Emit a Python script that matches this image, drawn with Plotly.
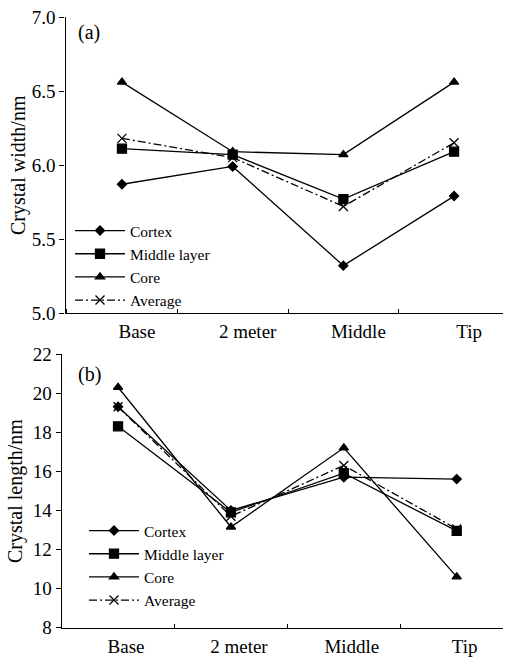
import plotly.graph_objects as go

categories = ["Base", "2 meter", "Middle", "Tip"]
series_names = ["Cortex", "Middle layer", "Core", "Average"]

width_cortex = [5.87, 5.99, 5.32, 5.79]
width_middle = [6.11, 6.07, 5.77, 6.09]
width_core = [6.56, 6.09, 6.07, 6.56]
width_average = [6.18, 6.05, 5.72, 6.15]

length_cortex = [19.3, 14.0, 15.7, 15.6]
length_middle = [18.3, 13.9, 15.9, 12.95]
length_core = [20.3, 13.15, 17.2, 10.6]
length_average = [19.3, 13.7, 16.3, 13.05]

W, H = 505, 659
FONT = "Liberation Serif"

styles = [
    dict(symbol="diamond", size=7, dash="solid"),
    dict(symbol="square", size=9, dash="solid"),
    dict(symbol="triangle-up", size=8, dash="solid"),
    dict(symbol="x-thin-open", size=9, dash="8px,3px,2px,3px"),
]

fig = go.Figure()

panels = [
    ([width_cortex, width_middle, width_core, width_average], "x", "y", "legend"),
    ([length_cortex, length_middle, length_core, length_average], "x2", "y2", "legend2"),
]
for values, xa, ya, lg in panels:
    for name, vals, st in zip(series_names, values, styles):
        fig.add_trace(go.Scatter(
            x=categories, y=vals, name=name, mode="lines+markers",
            xaxis=xa, yaxis=ya, legend=lg,
            line=dict(color="black", width=1.3, dash=st["dash"]),
            marker=dict(symbol=st["symbol"], size=st["size"], color="black",
                        line=dict(color="black", width=1.3)),
        ))

def px_x(p):
    return p / W

def px_y(p):
    return 1 - p / H

axis_common = dict(
    showline=True, linecolor="black", linewidth=1.3, showgrid=False,
    zeroline=False, automargin=False, color="black",
    tickfont=dict(family=FONT, size=19, color="black"),
)
title_font = dict(family=FONT, size=20, color="black")

fig.update_layout(
    width=W, height=H,
    margin=dict(l=0, r=0, t=0, b=0, pad=0),
    paper_bgcolor="white", plot_bgcolor="white",
    font=dict(family=FONT, color="black"),
    xaxis=dict(axis_common, domain=[px_x(65.5), px_x(503)], anchor="y",
               type="category", categoryorder="array", categoryarray=categories,
               range=[-0.51, 3.442], tickson="boundaries", ticks="inside",
               ticklen=4, tickcolor="black", ticklabelshift=15, ticklabelstandoff=1),
    yaxis=dict(axis_common, domain=[px_y(313), px_y(17)], anchor="x",
               range=[5, 7], dtick=0.5, tickformat=".1f", ticks="outside",
               ticklen=5, tickcolor="black"),
    xaxis2=dict(axis_common, domain=[px_x(61.7), px_x(503)], anchor="y2",
                type="category", categoryorder="array", categoryarray=categories,
                range=[-0.499, 3.41], tickson="boundaries", ticks="inside",
                ticklen=4, tickcolor="black", ticklabelshift=8, ticklabelstandoff=1),
    yaxis2=dict(axis_common, domain=[px_y(627.7), px_y(354)], anchor="x2",
                range=[8, 22], dtick=2, ticks="outside", ticklen=5, tickcolor="black"),
    legend=dict(x=px_x(70), y=px_y(214), xanchor="left", yanchor="top",
                bgcolor="rgba(0,0,0,0)", itemwidth=50,
                font=dict(family=FONT, size=15.5, color="black")),
    legend2=dict(x=px_x(84), y=px_y(514), xanchor="left", yanchor="top",
                 bgcolor="rgba(0,0,0,0)", itemwidth=50,
                 font=dict(family=FONT, size=15.5, color="black")),
    annotations=[
        dict(text="(a)", x=px_x(89), y=px_y(33), xref="paper", yref="paper",
             xanchor="center", yanchor="middle", showarrow=False, font=title_font),
        dict(text="(b)", x=px_x(89), y=px_y(374), xref="paper", yref="paper",
             xanchor="center", yanchor="middle", showarrow=False, font=title_font),
        dict(text="Crystal width/nm", x=px_x(19), y=px_y(165), xref="paper", yref="paper",
             xanchor="center", yanchor="middle", textangle=-90, showarrow=False,
             font=title_font),
        dict(text="Crystal length/nm", x=px_x(16), y=px_y(491), xref="paper", yref="paper",
             xanchor="center", yanchor="middle", textangle=-90, showarrow=False,
             font=title_font),
    ],
)

fig.write_html("out.html", config={"displayModeBar": False},
               post_script="document.body.style.margin='0px';")
